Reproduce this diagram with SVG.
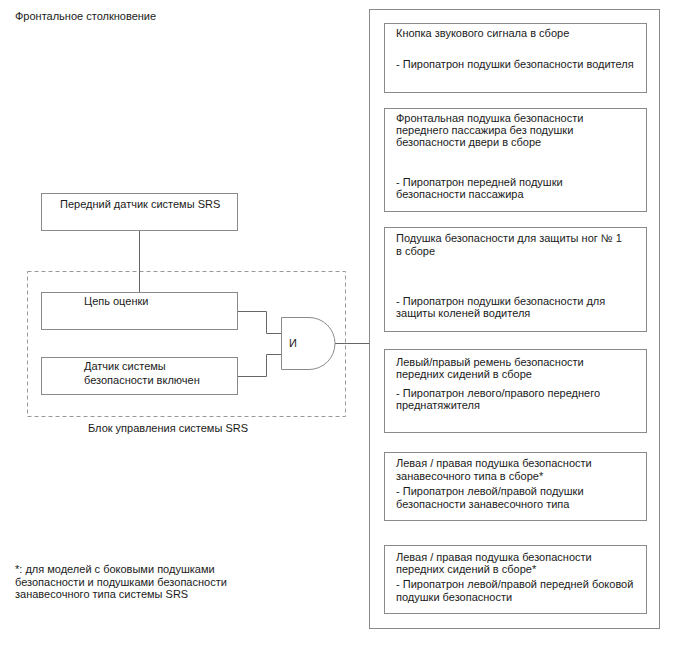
<svg xmlns="http://www.w3.org/2000/svg" width="688" height="658" viewBox="0 0 688 658">
<style>
text{font-family:"Liberation Sans",Arial,sans-serif;font-size:11px;fill:#1a1a1a}
.box{fill:#fff;stroke:#8a8a8a;stroke-width:1}
.ln{fill:none;stroke:#666;stroke-width:1}
.dash{fill:none;stroke:#999;stroke-width:1;stroke-dasharray:4,3}
</style>
<rect width="688" height="658" fill="#fff"/>
<text x="15" y="20">Фронтальное столкновение</text>
<g id="ecu">
<rect class="dash" x="27.5" y="271.5" width="318" height="145"/>
<text x="88" y="432">Блок управления системы SRS</text>
</g>
<g id="outputs">
<rect class="box" x="369.5" y="9.5" width="290" height="619"/>
</g>
<g id="connectors">
<path class="ln" d="M139.5,230 V292"/>
<path class="ln" d="M238,311.5 H266.5 V333.5 H281"/>
<path class="ln" d="M238,376.5 H266.5 V354.5 H281"/>
<path class="ln" d="M335,343.5 H369.5"/>
</g>
<g id="front-sensor">
<rect class="box" x="41.5" y="193.5" width="196" height="37"/>
<text x="60" y="208">Передний датчик системы SRS</text>
</g>
<g id="eval">
<rect class="box" x="41.5" y="292.5" width="196" height="37"/>
<text x="84" y="305">Цепь оценки</text>
</g>
<g id="belt-sensor">
<rect class="box" x="41.5" y="357.5" width="196" height="37"/>
<text x="84" y="370">Датчик системы</text>
<text x="84" y="384">безопасности включен</text>
</g>
<g id="and-gate">
<path class="box" d="M281.5,317.5 H309 A26,26 0 0 1 309,369.5 H281.5 Z"/>
<text x="289" y="347">И</text>
</g>
<g id="horn">
<rect class="box" x="384.5" y="23.5" width="262" height="69"/>
<text x="396" y="37">Кнопка звукового сигнала в сборе</text>
<text x="396" y="68">- Пиропатрон подушки безопасности водителя</text>
</g>
<g id="passenger">
<rect class="box" x="384.5" y="108.5" width="262" height="103"/>
<text x="396" y="122">Фронтальная подушка безопасности</text>
<text x="396" y="134">переднего пассажира без подушки</text>
<text x="396" y="146">безопасности двери в сборе</text>
<text x="396" y="186">- Пиропатрон передней подушки</text>
<text x="396" y="198">безопасности пассажира</text>
</g>
<g id="knee">
<rect class="box" x="384.5" y="227.5" width="262" height="104"/>
<text x="396" y="242">Подушка безопасности для защиты ног № 1</text>
<text x="396" y="255">в сборе</text>
<text x="396" y="305">- Пиропатрон подушки безопасности для</text>
<text x="396" y="317">защиты коленей водителя</text>
</g>
<g id="belt">
<rect class="box" x="384.5" y="349.5" width="262" height="83"/>
<text x="396" y="366">Левый/правый ремень безопасности</text>
<text x="396" y="378">передних сидений в сборе</text>
<text x="396" y="397">- Пиропатрон левого/правого переднего</text>
<text x="396" y="409">преднатяжителя</text>
</g>
<g id="curtain">
<rect class="box" x="384.5" y="452.5" width="262" height="68"/>
<text x="396" y="467">Левая / правая подушка безопасности</text>
<text x="396" y="480">занавесочного типа в сборе*</text>
<text x="396" y="495">- Пиропатрон левой/правой подушки</text>
<text x="396" y="508">безопасности занавесочного типа</text>
</g>
<g id="side">
<rect class="box" x="384.5" y="545.5" width="262" height="68"/>
<text x="396" y="561">Левая / правая подушка безопасности</text>
<text x="396" y="573">передних сидений в сборе*</text>
<text x="396" y="588">- Пиропатрон левой/правой передней боковой</text>
<text x="396" y="601">подушки безопасности</text>
</g>
<text x="15" y="573">*: для моделей с боковыми подушками</text>
<text x="15" y="586">безопасности и подушками безопасности</text>
<text x="15" y="598">занавесочного типа системы SRS</text>
</svg>
